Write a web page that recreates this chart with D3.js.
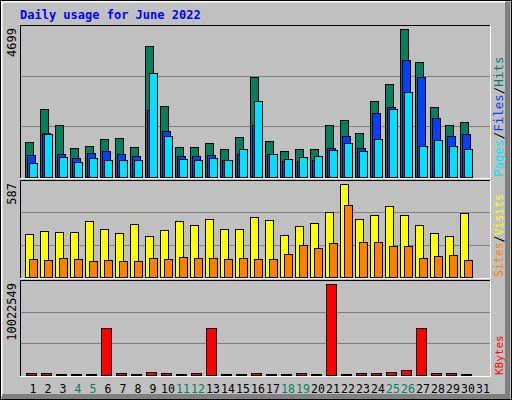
<!DOCTYPE html>
<html><head><meta charset="utf-8">
<script src="https://cdn.jsdelivr.net/npm/d3@7"></script>
<style>body{margin:0;background:#fff}svg{display:block}text{font-family:"DejaVu Sans Mono",monospace}</style>
</head><body><svg id="c" width="512" height="400"></svg>
<script>
var days = d3.range(1, 32);
var weekends = [4, 5, 11, 12, 18, 19, 25, 26];
var hits  = [1104,2153,1644,913,976,1199,1231,945,4157,2249,945,945,1072,881,1263,3171,1135,817,881,881,1644,1803,1390,2407,2948,4699,3647,2216,1644,1739,0];
var files = [700,1390,722,595,754,817,722,658,2131,1453,658,658,690,531,722,1644,722,499,499,531,913,1294,913,2026,2216,3711,3171,1867,1294,1358,0];
var pages = [436,1358,636,468,595,531,531,531,3298,1294,563,531,595,531,881,2407,722,563,626,658,849,1072,817,1199,2153,2693,976,1167,976,881,0];
var visits = [269,288,282,282,351,301,275,332,256,294,351,326,364,301,301,377,358,263,320,339,409,587,364,390,447,390,326,275,256,402,0];
var sites  = [116,110,123,116,104,110,104,104,123,116,129,123,123,116,123,116,116,148,199,186,212,453,224,218,193,193,123,135,142,110,0];
var kbytes = [220000,220000,110000,110000,110000,5180000,220000,110000,330000,220000,110000,220000,5180000,110000,110000,220000,110000,110000,220000,110000,10022549,110000,220000,220000,330000,550000,5180000,220000,220000,110000,0];

var svg = d3.select('#c');
var W = 512, H = 400;

// frame
svg.append('rect').attr('width', W).attr('height', H).attr('fill', '#c0c0c0');
svg.append('path').attr('d', 'M1.5,396V1.5H505').attr('stroke', '#fff').attr('stroke-width', 2).attr('fill', 'none');
svg.append('path').attr('d', 'M2,396.5H507.5V2').attr('stroke', '#808080').attr('stroke-width', 5).attr('fill', 'none');
svg.append('rect').attr('x', 0.5).attr('y', 0.5).attr('width', 511).attr('height', 399).attr('stroke', '#000').attr('fill', 'none');

svg.append('text').attr('x', 20).attr('y', 19).attr('fill', '#0000ff')
  .attr('font-size', 12).attr('font-weight', 'bold').text('Daily usage for June 2022');

var x = d3.scaleBand().domain(days).range([25, 490]).paddingInner(0);

function panel(top, bottom, max, series, labels, fs) {
  var y = d3.scaleLinear().domain([0, max]).range([bottom, bottom - (bottom - top - 4)]);
  var g = svg.append('g');
  [1, 2].forEach(function(k){
    var yy = Math.round(bottom - (bottom - top) * k / 3) + 0.5;
    g.append('line').attr('x1', 21).attr('x2', 490).attr('y1', yy).attr('y2', yy).attr('stroke', '#808080');
  });
  g.append('path').attr('d', 'M20.5,' + (bottom + 1) + 'V' + (top + 0.5) + 'H491').attr('stroke', '#000').attr('fill', 'none');
  g.append('path').attr('d', 'M20,' + (bottom + 1.5) + 'H490.5V' + top).attr('stroke', '#fff').attr('fill', 'none');
  series.forEach(function(s){
    g.selectAll(null).data(s.values).enter().filter(function(d){ return d > 0; }).append('rect')
      .attr('x', function(d, i){ return x(days[i]) + s.off + 0.5; })
      .attr('y', function(d){ return Math.round(y(d)) + 0.5; })
      .attr('width', s.w)
      .attr('height', function(d){ return Math.max(1, bottom - Math.round(y(d))); })
      .attr('fill', s.color).attr('stroke', '#000');
  });
  g.append('text').attr('transform', 'translate(16,' + (top + 3) + ') rotate(-90)')
    .attr('text-anchor', 'end').attr('font-size', 12).attr('fill', '#000').text(max);
  // right legend, drawn bottom-up
  var lx = 503, ly = bottom;
  labels.forEach(function(l, i){
    var t = g.append('text').attr('transform', 'translate(' + lx + ',' + ly + ') rotate(-90)')
      .attr('font-size', fs).attr('fill', l.color).text(l.text);
    ly -= t.node().getComputedTextLength();
    if (i < labels.length - 1) {
      var s = g.append('text').attr('transform', 'translate(' + lx + ',' + ly + ') rotate(-90)')
        .attr('font-size', fs).attr('fill', '#000').text(' / ');
      ly -= s.node().getComputedTextLength();
    }
  });
}

panel(25, 177, 4699, [
  {values: hits, color: '#00805c', off: 0, w: 8},
  {values: files, color: '#0040ff', off: 2, w: 8},
  {values: pages, color: '#00e0ff', off: 4, w: 8}
], [{text: 'Pages', color: '#00e0ff'}, {text: 'Files', color: '#0040ff'}, {text: 'Hits', color: '#00805c'}], 12.5);

panel(180, 277, 587, [
  {values: visits, color: '#ffff00', off: 0, w: 8},
  {values: sites, color: '#ff8000', off: 4, w: 8}
], [{text: 'Sites', color: '#ff8000'}, {text: 'Visits', color: '#ffff00'}], 11.5);

panel(280, 375, 10022549, [
  {values: kbytes, color: '#ff0000', off: 1, w: 10}
], [{text: 'KBytes', color: '#ff0000'}], 11);

svg.selectAll('text.day').data(days).enter().append('text')
  .attr('x', function(d){ return x(d) + 8; }).attr('y', 393)
  .attr('text-anchor', 'middle').attr('font-size', 11.5).attr('font-family', 'DejaVu Sans')
  .attr('fill', function(d){ return weekends.indexOf(d) >= 0 ? '#00805c' : '#000'; })
  .text(function(d){ return d; });
</script></body></html>
